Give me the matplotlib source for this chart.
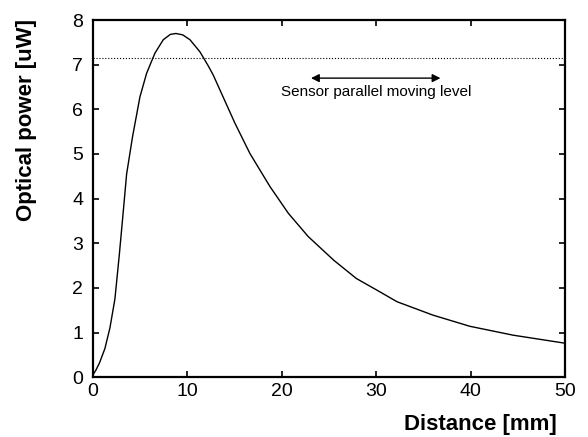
import matplotlib
matplotlib.use('Agg')
import matplotlib.pyplot as plt

plt.rcParams['font.family'] = ['Liberation Sans', 'DejaVu Sans']

# curve
distance = [0.0, 0.3, 0.7, 1.27, 1.8, 2.33, 2.8, 3.21, 3.57, 4.2, 4.98, 5.69, 6.57,
            7.45, 8.2, 8.79, 9.5, 10.28, 11.33, 12.2, 12.74, 15.04, 16.63, 18.75,
            20.7, 22.8, 25.5, 27.9, 30.4, 32.2, 36.0, 39.9, 44.5, 50.0]
power = [0.05, 0.15, 0.32, 0.64, 1.1, 1.75, 2.75, 3.7, 4.55, 5.39, 6.28, 6.81, 7.26,
         7.56, 7.68, 7.70, 7.67, 7.56, 7.29, 6.98, 6.77, 5.69, 5.01, 4.27,
         3.67, 3.15, 2.62, 2.21, 1.91, 1.69, 1.39, 1.14, 0.94, 0.76]
level = 7.15
arrow_x = [22.8, 37.1]
arrow_y = 6.70
note = 'Sensor parallel moving level'

fig = plt.figure(figsize=(5.88, 4.37), dpi=100)
ax = fig.add_axes([0.158, 0.137, 0.803, 0.817])

ax.plot(distance, power, color='black', linewidth=1.0)
ax.axhline(level, color='black', linestyle=':', linewidth=0.8)

ax.annotate('', xy=(arrow_x[1], arrow_y), xytext=(arrow_x[0], arrow_y),
            arrowprops=dict(arrowstyle='<|-|>', color='black', lw=1.0,
                            mutation_scale=12))
ax.text(sum(arrow_x) / 2, 6.39, note, ha='center', va='center', fontsize=11)

ax.set_xlim(0, 50)
ax.set_ylim(0, 8)
ax.set_xticks(range(0, 51, 10))
ax.set_yticks(range(0, 9))
ax.tick_params(direction='in', top=True, right=True, length=4, width=1.2,
               labelsize=14)
ax.tick_params(axis='y', pad=7)
ax.tick_params(axis='x', pad=4)
for s in ax.spines.values():
    s.set_linewidth(1.6)

ax.set_ylabel('Optical power [uW]', fontsize=16, fontweight='bold', va='center')
ax.yaxis.set_label_coords(-0.14, 0.72)
ax.set_xlabel('Distance [mm]', fontsize=16, fontweight='bold', ha='right',
              va='center')
ax.xaxis.set_label_coords(0.983, -0.132)

fig.savefig('out.png', dpi=100)
